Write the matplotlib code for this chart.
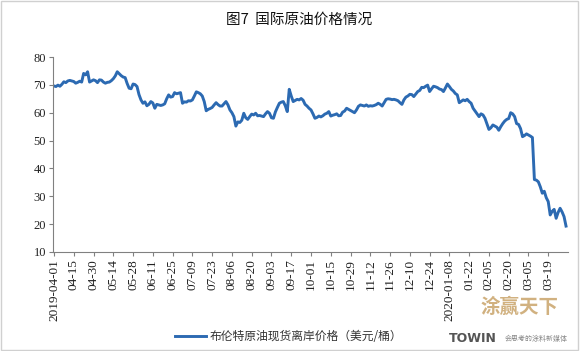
import matplotlib
matplotlib.use("Agg")
import matplotlib.pyplot as plt
import numpy as np

# Brent spot FOB price, USD/bbl, one value per trading day from 2019-04-01
price = [
    69.6, 69.4, 69.9, 69.5, 70.2, 71.1, 70.8, 71.4, 71.6, 71.4,
    71.2, 70.6, 70.9, 71.3, 71.0, 74.1, 73.6, 74.7, 71.0, 71.4,
    71.8, 71.5, 70.8, 71.8, 71.7, 71.0, 70.6, 70.9, 71.0, 71.5,
    72.2, 73.2, 74.7, 74.0, 73.3, 72.8, 72.6, 70.5, 68.8, 68.6,
    70.3, 70.1, 69.4, 66.5, 64.6, 63.4, 63.9, 62.5, 63.0, 64.0,
    63.5, 61.6, 63.0, 62.8, 62.6, 62.8, 63.2, 65.0, 66.4, 65.6,
    65.8, 67.2, 66.8, 67.0, 67.2, 63.4, 63.9, 63.8, 64.3, 64.2,
    64.6, 66.0, 67.5, 67.2, 66.8, 66.0, 64.0, 60.7, 61.2, 61.5,
    61.9, 62.8, 63.6, 62.9, 62.4, 62.4, 63.2, 64.0, 62.8, 61.0,
    60.0, 58.6, 55.2, 56.7, 56.5, 57.3, 59.8, 58.2, 57.6, 58.6,
    59.5, 59.2, 59.8, 58.9, 59.0, 58.8, 58.6, 59.6, 60.4, 59.8,
    58.2, 58.0, 60.3, 61.9, 63.4, 63.8, 64.0, 62.5, 60.4, 68.4,
    66.0, 64.0, 64.4, 64.8, 64.6, 65.1, 64.5, 63.0, 62.4, 61.6,
    61.0, 59.6, 58.0, 58.3, 58.8, 58.5, 58.9, 59.5, 59.8, 60.4,
    58.8, 59.1, 59.3, 59.6, 58.9, 59.0, 60.2, 60.6, 61.6, 61.2,
    60.8, 60.4, 60.0, 61.0, 62.3, 62.8, 62.6, 62.4, 62.8, 62.3,
    62.5, 62.4, 62.6, 62.9, 63.4, 63.0, 62.4, 63.6, 64.8, 65.0,
    64.9, 64.7, 64.8, 64.6, 64.3, 63.6, 63.0, 64.6, 65.6, 66.0,
    66.6, 66.5, 65.8, 66.7, 67.6, 68.0, 69.1, 69.0, 69.5, 69.9,
    67.6, 68.6, 69.5, 69.3, 69.0, 68.5, 68.3, 67.6, 68.9, 70.3,
    69.4, 68.4, 67.8, 66.9, 66.4, 63.6, 64.1, 64.6, 64.3, 64.8,
    64.0, 63.4, 61.6, 60.6, 59.6, 58.6, 59.6, 59.2, 58.0, 56.0,
    54.0, 54.6, 55.6, 55.2, 54.8, 53.7, 55.0, 56.1, 57.0, 57.6,
    57.9, 60.0, 59.6, 58.6, 56.1, 55.8, 54.3, 51.4, 51.8, 52.4,
    52.0, 51.6, 51.1, 36.0, 35.8, 35.2, 33.4, 31.1, 31.8, 29.5,
    28.1, 23.3, 24.6, 25.3, 22.1, 24.2, 25.7, 24.4, 22.7, 19.3,
]

tick_labels = [
    "2019-04-01", "04-15", "04-30", "05-14", "05-28", "06-11", "06-25",
    "07-09", "07-23", "08-06", "08-20", "09-03", "09-17", "10-01", "10-15",
    "10-29", "11-12", "11-26", "12-10", "12-24", "2020-01-08", "01-22",
    "02-05", "02-20", "03-05", "03-19",
]
TICK_STEP = 10

title = "图7  国际原油价格情况"
legend_label = "布伦特原油现货离岸价格（美元/桶）"

plt.rcParams["font.family"] = ["Noto Sans CJK SC", "DejaVu Sans"]

fig = plt.figure(figsize=(5.8, 3.51), dpi=100)
fig.patches.append(plt.Rectangle((0.002, 0.003), 0.995, 0.994, transform=fig.transFigure,
                                 fill=False, edgecolor="#d0d0d0", linewidth=1))
ax = fig.add_axes([53 / 580, 1 - 252 / 351, (568 - 53) / 580, (252 - 57) / 351])

x = np.arange(len(price))
line, = ax.plot(x, price, color="#2C6AB2", linewidth=2.1, solid_joinstyle="round")

ax.set_xlim(-0.5, len(price))
ax.set_ylim(10, 80)
ax.set_yticks(range(10, 81, 10))
ax.set_xticks(np.arange(len(tick_labels)) * TICK_STEP)
ax.set_xticklabels(tick_labels, rotation=90, fontfamily="Liberation Serif", fontsize=9.5)
for lab in ax.get_yticklabels():
    lab.set_fontfamily("Liberation Serif")
    lab.set_fontsize(9)

for s in ["top", "right"]:
    ax.spines[s].set_visible(False)
for s in ["left", "bottom"]:
    ax.spines[s].set_color("#808080")
    ax.spines[s].set_linewidth(0.8)
ax.tick_params(axis="both", direction="out", length=3, width=0.8, color="#808080",
               labelcolor="#222222", pad=2)

fig.text(0.515, 0.945, title, ha="center", va="center", fontsize=10.5, color="#111111")

fig.legend([line], [legend_label], loc="center", bbox_to_anchor=(0.498, 0.04),
           frameon=False, fontsize=8.5, handlelength=2.6, handletextpad=0.3,
           labelcolor="#333333")

# watermark, kept below the short date labels
fig.text(0.895, 0.125, "涂赢天下", ha="center", va="center", fontsize=14,
         color="#C9A46A", alpha=0.85, fontweight="bold")
fig.text(0.815, 0.035, "TOWIN", ha="center", va="center", fontsize=9,
         color="#555555", fontweight="bold", family="DejaVu Sans")
fig.text(0.925, 0.035, "会思考的涂料新媒体", ha="center", va="center", fontsize=5,
         color="#888888")

fig.savefig("out.png", dpi=100)
